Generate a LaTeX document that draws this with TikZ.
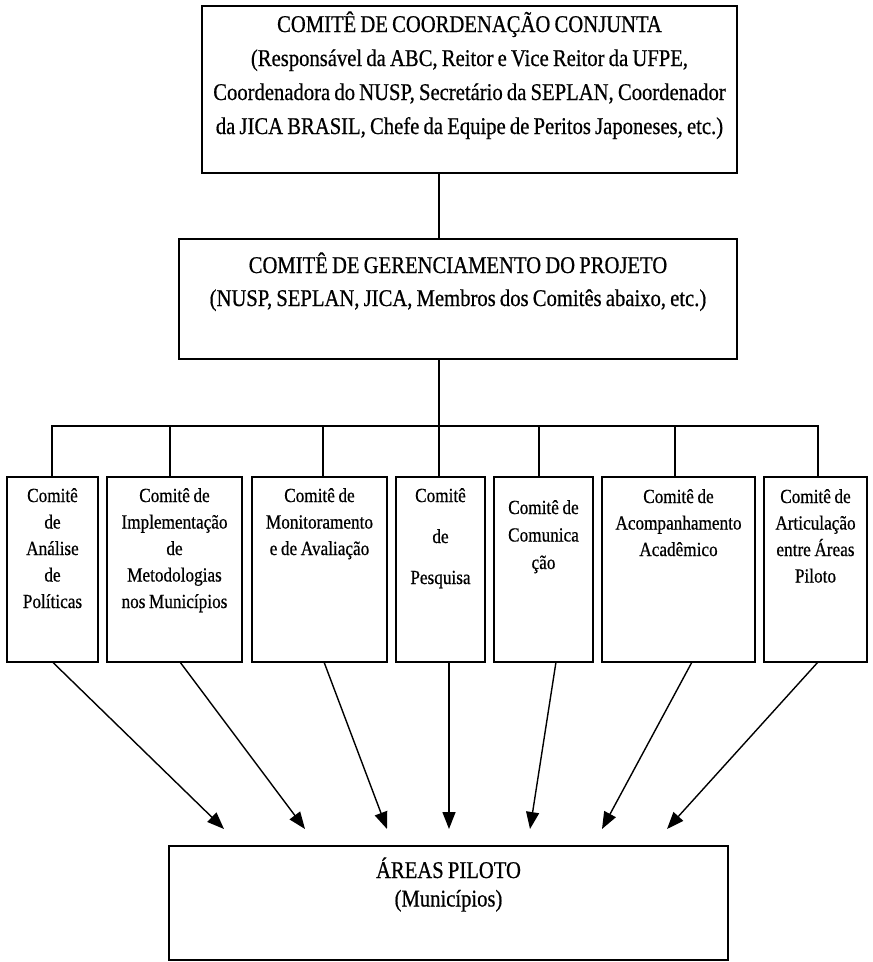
\documentclass[tikz,border=0pt]{standalone}
\usepackage{fontspec}
\setmainfont[FakeStretch=0.86,FakeBold=0.6]{Liberation Serif}
\usetikzlibrary{arrows.meta}
\begin{document}
\begin{tikzpicture}[x=1pt,y=-1pt,
  rbox/.style={draw, line width=1.5pt, inner sep=0pt, outer sep=0pt},
  conn/.style={line width=1.4pt},
  arr/.style={line width=1.4pt, -{Triangle[length=17pt,width=13pt]}},
  bigtxt/.style={anchor=base, align=center, inner sep=0pt, text width=600pt, font=\fontsize{24}{34}\selectfont, execute at begin node={\spaceskip=4.2pt\relax}},
  smalltxt/.style={anchor=base, align=center, inner sep=0pt, text width=160pt, font=\fontsize{20}{26.5}\selectfont, execute at begin node={\spaceskip=3.6pt\relax}}]
\useasboundingbox (0,0) rectangle (873,962);
\fill[white] (0,0) rectangle (873,962);

% boxes
\node[rbox, minimum width=535pt, minimum height=167pt] (top) at (469.5,89.5) {};
\node[rbox, minimum width=558pt, minimum height=120pt] (mid) at (458,299) {};
\node[rbox, minimum width=91pt,  minimum height=185pt] (c1) at (52.5,569.5) {};
\node[rbox, minimum width=135pt, minimum height=185pt] (c2) at (174.5,569.5) {};
\node[rbox, minimum width=135pt, minimum height=185pt] (c3) at (319.5,569.5) {};
\node[rbox, minimum width=89pt,  minimum height=185pt] (c4) at (440.5,569.5) {};
\node[rbox, minimum width=99pt,  minimum height=185pt] (c5) at (543.5,569.5) {};
\node[rbox, minimum width=153pt, minimum height=185pt] (c6) at (678.5,569.5) {};
\node[rbox, minimum width=103pt, minimum height=185pt] (c7) at (815.5,569.5) {};
\node[rbox, minimum width=559pt, minimum height=114pt] (bot) at (448.5,903) {};

% texts
\node[bigtxt] (topT) at (469.5,32) {COMITÊ DE COORDENAÇÃO CONJUNTA\\(Responsável da ABC, Reitor e Vice Reitor da UFPE,\\Coordenadora do NUSP, Secretário da SEPLAN, Coordenador\\da JICA BRASIL, Chefe da Equipe de Peritos Japoneses, etc.)};
\node[bigtxt, font=\fontsize{24}{33}\selectfont] (midT) at (458,273) {COMITÊ DE GERENCIAMENTO DO PROJETO\\(NUSP, SEPLAN, JICA, Membros dos Comitês abaixo, etc.)};
\node[smalltxt] (c1T) at (52.5,502) {Comitê\\de\\Análise\\de\\Políticas};
\node[smalltxt] (c2T) at (174.5,502) {Comitê de\\Implementação\\de\\Metodologias\\nos Municípios};
\node[smalltxt] (c3T) at (319.5,502) {Comitê de\\Monitoramento\\e de Avaliação};
\node[smalltxt, font=\fontsize{20}{41}\selectfont] (c4T) at (440.5,502) {Comitê\\de\\Pesquisa};
\node[smalltxt, font=\fontsize{20}{27.5}\selectfont] (c5T) at (543.5,514) {Comitê de\\Comunica\\ção};
\node[smalltxt] (c6T) at (678.5,503) {Comitê de\\Acompanhamento\\Acadêmico};
\node[smalltxt] (c7T) at (815.5,503) {Comitê de\\Articulação\\entre Áreas\\Piloto};
\node[bigtxt, font=\fontsize{24}{28.5}\selectfont] (botT) at (448.5,878) {ÁREAS PILOTO\\(Municípios)};

% tree connectors
\coordinate (busM) at (439,426);
\coordinate (busL) at (52,426);
\coordinate (busR) at (818,426);
\coordinate (d2) at (170,426);
\coordinate (d3) at (323,426);
\coordinate (d5) at (539,426);
\coordinate (d6) at (675,426);
\draw[conn] (top.south -| busM) -- (mid.north -| busM);
\draw[conn] (mid.south -| busM) -- (c4.north -| busM);
\draw[conn] (busL |- c1.north) -- (busL) -- (busR) -- (busR |- c7.north);
\draw[conn] (d2) -- (d2 |- c2.north);
\draw[conn] (d3) -- (d3 |- c3.north);
\draw[conn] (d5) -- (d5 |- c5.north);
\draw[conn] (d6) -- (d6 |- c6.north);

% arrows to pilot areas
\coordinate (a1) at (224,829);
\coordinate (a2) at (305,829);
\coordinate (a3) at (387,829);
\coordinate (a4) at (449,829);
\coordinate (a5) at (530,829);
\coordinate (a6) at (602,829);
\coordinate (a7) at (667,829);
\draw[arr] (c1.south) -- (a1);
\draw[arr] ([xshift=5.5pt]c2.south) -- (a2);
\draw[arr] ([xshift=4.5pt]c3.south) -- (a3);
\draw[arr] ([xshift=8.5pt]c4.south) -- (a4);
\draw[arr] ([xshift=12.5pt]c5.south) -- (a5);
\draw[arr] ([xshift=13.5pt]c6.south) -- (a6);
\draw[arr] ([xshift=2.5pt]c7.south) -- (a7);
\end{tikzpicture}
\end{document}
